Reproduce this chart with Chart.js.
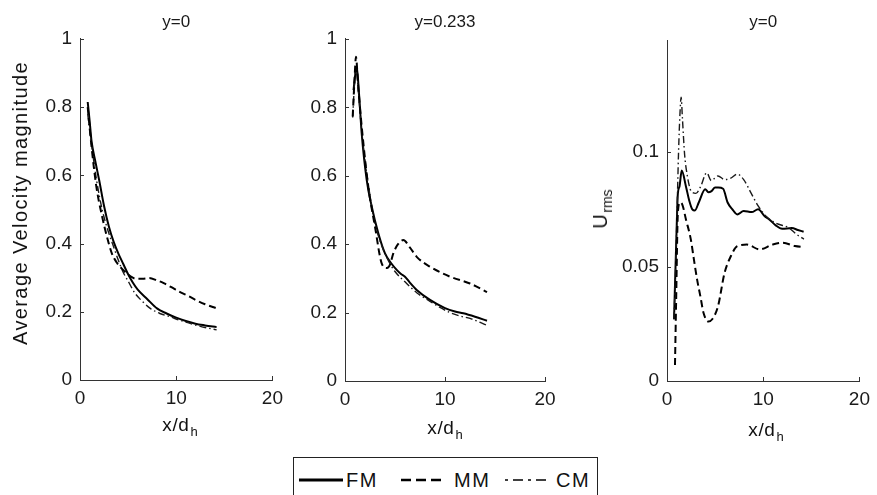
<!DOCTYPE html>
<html>
<head>
<meta charset="utf-8">
<script src="https://cdn.jsdelivr.net/npm/chart.js@4.4.1/dist/chart.umd.min.js"></script>
<style>
  html, body { margin: 0; padding: 0; background: #fff; }
  body { width: 877px; height: 495px; position: relative; overflow: hidden;
         font-family: "Liberation Sans", Arial, sans-serif; color: #111; }
  .panel { position: absolute; top: 0; }
  .lbl { position: absolute; white-space: nowrap; font-size: 19px; line-height: 19px; letter-spacing: 0.6px; color: #111; }
  .lbl .sub { font-size: 13px; position: relative; top: 5px; margin-left: 1px; letter-spacing: 0; }
  .xlbl { transform: translateX(-50%); }
  .ylbl { transform: translate(-50%, -50%) rotate(-90deg); }
  #legend { position: absolute; left: 293px; top: 457px; width: 303px; height: 60px; border: 1px solid #222; }
  #legend svg { position: absolute; left: 0; top: 0; }
  #legend span { position: absolute; top: 12px; font-size: 20px; line-height: 20px; letter-spacing: 1.5px; color: #111; }
</style>
</head>
<body>
<canvas id="panelA" class="panel" style="left:0px" width="290" height="440"></canvas>
<canvas id="panelB" class="panel" style="left:290px" width="290" height="440"></canvas>
<canvas id="panelC" class="panel" style="left:580px" width="297" height="440"></canvas>

<div class="lbl ylbl" style="left:20px; top:203px; font-size:20px; line-height:20px; letter-spacing:1.4px;">Average Velocity magnitude</div>
<div class="lbl ylbl" style="left:601px; top:209px; font-size:20px; line-height:20px;">U<span class="sub" style="font-size:14px">rms</span></div>
<div class="lbl xlbl" style="left:180px; top:415px;">x/d<span class="sub">h</span></div>
<div class="lbl xlbl" style="left:445px; top:418px;">x/d<span class="sub">h</span></div>
<div class="lbl xlbl" style="left:766px; top:420px;">x/d<span class="sub">h</span></div>

<div id="legend">
  <svg width="303" height="40">
    <line x1="5" y1="22" x2="49" y2="22" stroke="#000" stroke-width="2.8"/>
    <line x1="107" y1="22" x2="151" y2="22" stroke="#000" stroke-width="2.4" stroke-dasharray="10,5"/>
    <line x1="211" y1="22" x2="252" y2="22" stroke="#000" stroke-width="1.6" stroke-dasharray="3,5,10,5"/>
  </svg>
  <span style="left:52px">FM</span>
  <span style="left:160px">MM</span>
  <span style="left:262px">CM</span>
</div>

<script>
(function () {
  "use strict";

  // Panel A : y=0, average velocity magnitude
  const aFmX = [0.8, 1.0, 1.2, 1.6, 2.0, 2.5, 3.0, 3.5, 4.0, 4.5, 5.0, 5.5, 6.0, 7.0, 8.0, 9.0, 10.0, 11.0, 12.0, 13.0, 14.2];
  const aFmY = [0.815, 0.76, 0.70, 0.64, 0.585, 0.51, 0.45, 0.405, 0.37, 0.34, 0.31, 0.285, 0.265, 0.237, 0.21, 0.195, 0.183, 0.173, 0.165, 0.16, 0.155];
  const aMmX = [0.8, 1.2, 1.7, 2.3, 2.8, 3.3, 3.8, 4.3, 4.8, 5.3, 5.8, 6.5, 7.2, 8.0, 8.7, 9.5, 10.3, 11.2, 12.0, 13.0, 14.2];
  const aMmY = [0.80, 0.684, 0.567, 0.479, 0.42, 0.372, 0.345, 0.328, 0.314, 0.303, 0.297, 0.297, 0.299, 0.292, 0.284, 0.272, 0.259, 0.247, 0.235, 0.222, 0.21];
  const aCmX = [0.8, 1.2, 1.7, 2.3, 3.0, 3.5, 4.0, 4.5, 5.0, 5.7, 6.5, 7.3, 8.3, 9.3, 10.3, 11.2, 12.0, 13.0, 14.2];
  const aCmY = [0.78, 0.69, 0.59, 0.50, 0.43, 0.39, 0.35, 0.315, 0.29, 0.255, 0.23, 0.21, 0.195, 0.186, 0.176, 0.168, 0.161, 0.154, 0.147];

  // Panel B : y=0.233, average velocity magnitude
  const bFmX = [0.85, 1.17, 1.4, 1.67, 2.17, 2.67, 3.33, 4.0, 4.6, 5.17, 5.6, 6.0, 6.5, 7.17, 8.5, 10.0, 11.0, 11.83, 13.0, 14.2];
  const bFmY = [0.85, 0.919, 0.84, 0.724, 0.588, 0.51, 0.432, 0.373, 0.345, 0.325, 0.313, 0.305, 0.287, 0.266, 0.237, 0.213, 0.203, 0.198, 0.188, 0.176];
  const bMmX = [0.77, 0.95, 1.1, 1.3, 1.67, 2.33, 3.0, 3.67, 4.2, 4.5, 4.83, 5.3, 5.83, 6.5, 7.17, 8.5, 10.5, 12.5, 14.2];
  const bMmY = [0.773, 0.88, 0.948, 0.87, 0.744, 0.568, 0.451, 0.344, 0.33, 0.34, 0.373, 0.40, 0.412, 0.39, 0.363, 0.334, 0.305, 0.285, 0.26];
  const bCmX = [0.77, 0.95, 1.1, 1.3, 1.67, 2.33, 3.0, 3.5, 4.2, 5.0, 6.0, 7.17, 8.5, 9.5, 10.5, 11.5, 12.5, 14.2];
  const bCmY = [0.77, 0.87, 0.92, 0.86, 0.73, 0.575, 0.46, 0.41, 0.36, 0.32, 0.29, 0.258, 0.233, 0.215, 0.2, 0.19, 0.183, 0.163];

  // Panel C : y=0, U rms
  const cFmX = [0.73, 0.97, 1.13, 1.3, 1.53, 1.97, 2.3, 2.63, 2.9, 3.3, 3.97, 4.3, 4.63, 5.0, 5.33, 5.83, 6.3, 6.8, 7.3, 7.97, 8.8, 9.47, 10.13, 10.63, 11.3, 11.97, 12.97, 13.6, 14.2];
  const cFmY = [0.027, 0.062, 0.082, 0.085, 0.092, 0.085, 0.079, 0.075, 0.0745, 0.078, 0.0838, 0.0825, 0.083, 0.0845, 0.0845, 0.084, 0.078, 0.075, 0.0728, 0.0743, 0.0738, 0.075, 0.0721, 0.0706, 0.068, 0.0665, 0.0668, 0.066, 0.0652];
  const cMmX = [0.83, 0.95, 1.13, 1.35, 1.6, 1.97, 2.47, 2.8, 3.13, 3.47, 3.8, 4.3, 4.7, 5.3, 5.97, 6.63, 7.3, 8.3, 9.63, 10.97, 11.97, 13.3, 14.2];
  const cMmY = [0.007, 0.035, 0.0735, 0.078, 0.077, 0.0706, 0.062, 0.053, 0.0443, 0.037, 0.0297, 0.026, 0.027, 0.0326, 0.047, 0.0545, 0.0589, 0.0596, 0.0575, 0.0596, 0.0604, 0.059, 0.0585];
  const cCmX = [0.73, 0.9, 1.05, 1.2, 1.35, 1.47, 1.6, 1.83, 2.1, 2.5, 3.0, 3.5, 4.13, 4.6, 5.3, 6.0, 6.63, 7.3, 7.97, 8.63, 9.47, 10.3, 11.3, 12.63, 13.5, 14.23];
  const cCmY = [0.027, 0.05, 0.075, 0.1, 0.117, 0.124, 0.115, 0.099, 0.09, 0.083, 0.082, 0.085, 0.091, 0.0876, 0.0896, 0.088, 0.0886, 0.0904, 0.088, 0.083, 0.0765, 0.072, 0.069, 0.067, 0.064, 0.062];

  // Axis ranges / ticks
  const xRange = [0, 20];
  const xStep = 10;
  const velRange = [0, 1];
  const velStep = 0.2;
  const rmsRange = [0, 0.149];
  const rmsStep = 0.05;
  const rmsLastTick = 0.1;

  const titles = ['y=0', 'y=0.233', 'y=0'];

  // Styles
  const FONT = '"Liberation Sans", Arial, sans-serif';
  const INK = '#000';
  const AXIS = '#333';
  const TEXT = '#1a1a1a';

  function pts(xs, ys) {
    return xs.map(function (x, i) { return { x: x, y: ys[i] }; });
  }

  // MATLAB style ticks pointing into the plot
  const innerTicks = {
    id: 'innerTicks',
    afterDraw(chart) {
      const { ctx, chartArea, scales } = chart;
      ctx.save();
      ctx.strokeStyle = AXIS;
      ctx.lineWidth = 1;
      ctx.beginPath();
      scales.x.ticks.forEach(function (t) {
        if (t.value === scales.x.min) return;
        const px = Math.round(scales.x.getPixelForValue(t.value)) + 0.5;
        ctx.moveTo(px, chartArea.bottom);
        ctx.lineTo(px, chartArea.bottom - 4);
      });
      scales.y.ticks.forEach(function (t) {
        if (t.value === scales.y.min) return;
        const py = Math.round(scales.y.getPixelForValue(t.value)) + 0.5;
        ctx.moveTo(chartArea.left, py);
        ctx.lineTo(chartArea.left + 4, py);
      });
      ctx.stroke();
      ctx.restore();
    }
  };

  function makePanel(id, cfg) {
    const ctx = document.getElementById(id).getContext('2d');
    return new Chart(ctx, {
      type: 'line',
      data: {
        datasets: [{
          label: 'MM',
          data: pts(cfg.mmX, cfg.mmY),
          borderColor: INK,
          borderWidth: 2,
          borderDash: [7, 4]
        },
        {
          label: 'CM',
          data: pts(cfg.cmX, cfg.cmY),
          borderColor: '#1a1a1a',
          borderWidth: 1.4,
          borderDash: [7, 3, 1.5, 3]
        },
        {
          label: 'FM',
          data: pts(cfg.fmX, cfg.fmY),
          borderColor: INK,
          borderWidth: 2
        }]
      },
      options: {
        responsive: false,
        animation: false,
        layout: {
          padding: { left: 0, right: cfg.padRight, top: 0, bottom: 0 }
        },
        elements: {
          point: { radius: 0 },
          line: { tension: 0, cubicInterpolationMode: 'monotone' }
        },
        plugins: {
          legend: { display: false },
          tooltip: { enabled: false },
          title: {
            display: true,
            fullSize: false,
            text: cfg.title,
            color: TEXT,
            font: { family: FONT, size: 17, weight: 'normal' },
            padding: { top: 12, bottom: cfg.titleBottom }
          }
        },
        scales: {
          x: {
            type: 'linear',
            min: xRange[0],
            max: xRange[1],
            afterFit: function (s) { s.height = cfg.xAxisH; },
            grid: { display: false, drawTicks: false },
            border: { display: true, color: AXIS, width: 1 },
            ticks: {
              stepSize: xStep,
              padding: 7,
              maxRotation: 0,
              color: TEXT,
              font: { family: FONT, size: 19 },
              callback: function (v) { return String(+v.toFixed(3)); }
            }
          },
          y: {
            type: 'linear',
            min: cfg.yRange[0],
            max: cfg.yRange[1],
            afterFit: function (s) { s.width = cfg.yAxisW; },
            afterBuildTicks: function (s) {
              s.ticks = s.ticks.filter(function (t) { return t.value <= cfg.yLast + 1e-9; });
            },
            grid: { display: false, drawTicks: false },
            border: { display: true, color: AXIS, width: 1 },
            ticks: {
              stepSize: cfg.yStep,
              padding: 8,
              color: TEXT,
              font: { family: FONT, size: 19 },
              callback: function (v) { return String(+v.toFixed(3)); }
            }
          }
        }
      },
      plugins: [innerTicks]
    });
  }

  makePanel('panelA', {
    title: titles[0], titleBottom: 6.5, xAxisH: 60, yAxisW: 80, padRight: 11,
    yRange: velRange, yStep: velStep, yLast: velRange[1],
    fmX: aFmX, fmY: aFmY, mmX: aMmX, mmY: aMmY, cmX: aCmX, cmY: aCmY
  });
  makePanel('panelB', {
    title: titles[1], titleBottom: 6.5, xAxisH: 59, yAxisW: 55, padRight: 35,
    yRange: velRange, yStep: velStep, yLast: velRange[1],
    fmX: bFmX, fmY: bFmY, mmX: bMmX, mmY: bMmY, cmX: bCmX, cmY: bCmY
  });
  makePanel('panelC', {
    title: titles[2], titleBottom: 7.6, xAxisH: 59, yAxisW: 87, padRight: 11,
    yRange: rmsRange, yStep: rmsStep, yLast: rmsLastTick,
    fmX: cFmX, fmY: cFmY, mmX: cMmX, mmY: cMmY, cmX: cCmX, cmY: cCmY
  });

})();
</script>
</body>
</html>
